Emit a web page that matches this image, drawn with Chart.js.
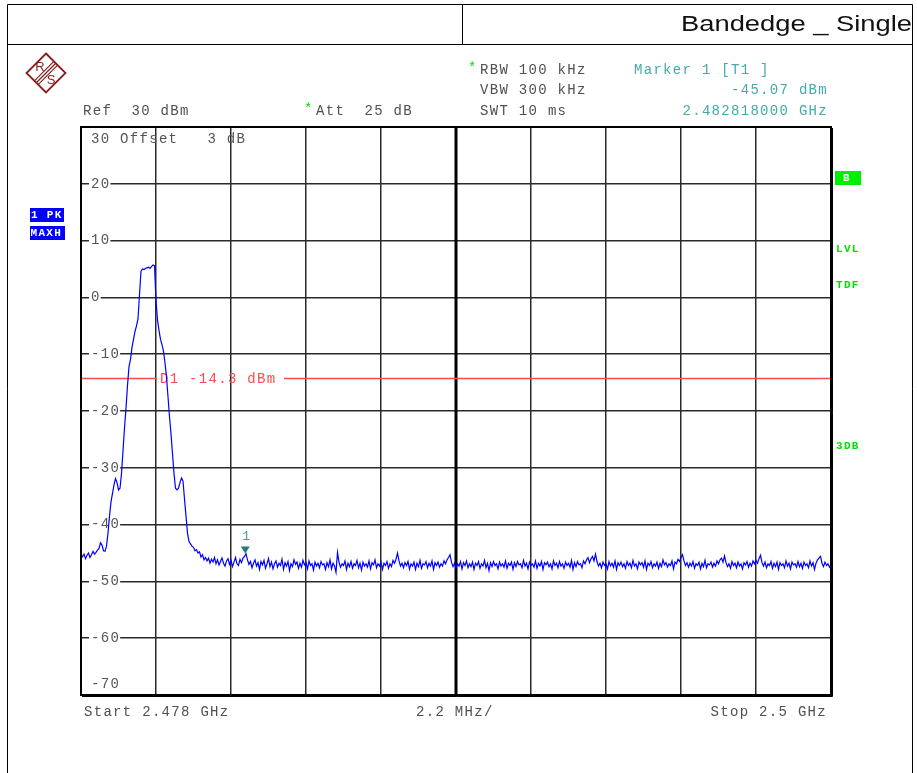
<!DOCTYPE html>
<html>
<head>
<meta charset="utf-8">
<script src="https://cdn.jsdelivr.net/npm/chart.js@4.4.1/dist/chart.umd.min.js"></script>
<style>
  html, body { margin: 0; padding: 0; background: #ffffff; }
  #wrap { position: relative; width: 917px; height: 773px; }
</style>
</head>
<body>
<div id="wrap"><canvas id="c" width="917" height="773"></canvas></div>
<script>
// ---------------- data ----------------
const START_GHZ = 2.478;
const STOP_GHZ = 2.5;
const Y_MIN = -70;
const Y_MAX = 30;
const Y_TICK_LABELS = ["20", "10", "0", "-10", "-20", "-30", "-40", "-50", "-60"];
const Y_TICK_VALUES = [20, 10, 0, -10, -20, -30, -40, -50, -60];
const DISPLAY_LINE_DBM = -14.3;
const MARKER_FREQ_GHZ = 2.482818;
const MARKER_LEVEL_DBM = -45.07;

// trace levels (dBm), 501 evenly spaced sweep points from START to STOP
const LEVEL_DBM = [
  -46.0, -45.6, -45.2, -46.0, -45.4, -45.0, -45.8, -45.3, -44.7, -45.2,
  -44.9, -44.5, -44.2, -43.2, -43.6, -44.6, -44.7, -43.8, -41.5, -38.5,
  -36.0, -34.5, -33.0, -31.9, -32.6, -33.9, -33.6, -31.0, -27.0, -23.0,
  -19.5, -15.5, -12.2, -10.9, -8.8, -7.4, -6.0, -5.0, -3.8, 0.5,
  4.6, 5.0, 4.9, 5.1, 5.2, 5.3, 5.1, 5.4, 5.7, 5.6,
  -0.5, -4.0, -5.8, -7.4, -8.3, -9.5, -11.5, -14.0, -17.5, -21.0,
  -24.0, -27.5, -31.0, -33.6, -33.9, -33.6, -32.6, -31.8, -32.3, -35.5,
  -38.5, -41.5, -43.0, -43.4, -43.8, -44.0, -44.6, -44.4, -45.0, -44.8,
  -45.7, -45.3, -46.2, -45.8,
  -46.4, -45.9, -46.8, -46.1, -46.6, -45.8,
  -46.9, -46.2, -47.1, -46.5, -45.9, -46.8, -47.3, -46.4, -46.0, -47.0,
  -46.3, -47.4, -46.6, -45.8, -46.9, -47.2, -46.1, -46.7, -45.9, -45.6,
  -45.1, -46.2, -47.0, -46.5, -47.6, -46.8, -46.2, -47.3, -46.7, -47.9,
  -46.5, -47.1, -46.3, -47.7, -46.9, -46.0, -47.4, -46.6, -47.8, -46.9,
  -46.4, -47.5, -46.8, -47.2, -46.1, -47.9, -46.7, -47.3, -46.5, -48.1,
  -46.9, -47.4, -46.2, -47.0, -46.6, -47.7, -46.8, -47.5, -46.3, -47.1,
  -46.7, -47.8, -46.4, -47.2, -46.9, -48.0, -46.6, -47.3, -46.8, -47.6,
  -46.5, -47.1, -46.9, -47.9, -46.7, -47.4, -46.2, -47.8, -46.8, -47.3,
  -48.4, -44.9, -46.6, -47.5, -46.9, -47.2, -46.4, -47.9, -46.8, -47.4,
  -46.5, -47.7, -46.9, -47.2, -46.3, -47.6, -46.8, -48.0, -46.6, -47.3,
  -46.9, -47.5, -46.4, -47.8, -46.7, -47.1, -46.2, -47.6, -46.9, -47.3,
  -46.6, -47.9, -46.8, -47.2, -46.5, -47.7, -46.9, -47.4, -46.3, -46.8,
  -46.1, -45.0, -46.4, -47.3, -46.8, -47.6, -46.7, -47.2, -46.5, -47.8,
  -46.9, -47.3, -46.6, -47.9, -46.8, -47.4, -46.3, -47.7, -46.9, -47.1,
  -46.5, -47.6, -46.8, -47.3, -46.4, -47.9, -46.7, -47.2, -46.6, -47.5,
  -46.9, -47.3, -46.4, -46.9, -46.2, -45.8, -45.3, -46.6, -47.4, -46.8,
  -47.7, -46.9, -47.3, -46.5, -47.8, -46.7, -47.2, -46.4, -47.6, -46.9,
  -47.4, -46.6, -47.9, -46.8, -47.2, -46.5, -47.7, -46.9, -47.3, -46.3,
  -47.6, -46.8, -48.1, -46.7, -47.4, -46.5, -47.2, -46.9, -47.8, -46.6,
  -47.3, -46.9, -47.5, -46.4, -47.7, -46.8, -47.2, -46.6, -47.9, -46.7,
  -47.4, -46.5, -47.1, -46.9, -47.6, -46.3, -47.3, -46.8, -47.8, -46.6,
  -47.2, -46.9, -47.5, -46.4, -47.7, -46.8, -47.3, -46.5, -47.9, -46.7,
  -47.1, -46.6, -47.4, -46.9, -47.8, -46.4, -47.2, -46.8, -47.6, -46.5,
  -47.3, -46.9, -47.7, -46.6, -47.2, -46.8, -47.5, -46.3, -47.9, -46.7,
  -47.4, -46.5, -47.1, -46.9, -47.6, -46.4, -46.9, -46.2, -45.8, -46.7,
  -46.0, -45.6, -46.4, -45.2, -46.5, -47.3, -46.8, -47.6, -46.6, -47.2,
  -46.9, -47.8, -46.5, -47.3, -46.8, -47.5, -46.4, -47.9, -46.7, -47.2,
  -46.6, -47.4, -46.9, -47.7, -46.5, -47.2, -46.8, -47.6, -46.3, -47.3,
  -46.9, -47.8, -46.6, -47.1, -46.7, -47.5, -46.4, -47.9, -46.8, -47.2,
  -46.5, -47.6, -46.9, -47.3, -46.6, -47.7, -46.8, -47.4, -46.2, -47.1,
  -46.7, -47.5, -46.9, -47.2, -46.4, -47.8, -46.6, -46.9, -46.1, -46.5,
  -45.8, -45.3, -46.4, -47.2, -46.7, -47.5, -46.8, -47.3, -46.5, -47.7,
  -46.9, -47.2, -46.6, -47.8, -46.8, -47.4, -46.3, -47.6, -46.9, -47.1,
  -46.6, -47.5, -46.8, -47.3, -46.4, -46.9, -46.2, -45.9, -46.6, -45.5,
  -46.7, -47.4, -46.9, -47.7, -46.5, -47.2, -46.8, -47.6, -46.6, -47.3,
  -46.9, -47.8, -46.7, -47.1, -46.5, -47.5, -46.8, -47.3, -46.4, -46.9,
  -46.3, -46.8, -46.0, -45.4, -46.7, -47.3, -46.6, -47.6, -46.9, -47.2,
  -46.5, -47.7, -46.8, -47.4, -46.6, -47.9, -46.7, -47.2, -46.9, -47.6,
  -46.4, -47.3, -46.8, -47.8, -46.6, -47.1, -46.9, -47.5, -46.5, -47.4,
  -46.8, -47.7, -46.6, -47.2, -46.9, -47.6, -46.4, -47.3, -46.7, -47.9,
  -46.8, -46.2, -45.9, -45.6, -46.8, -47.4, -46.6, -47.2, -46.9, -47.5,
  -47.0
];

// ---------------- chart ----------------
const N = LEVEL_DBM.length;
const tracePoints = LEVEL_DBM.map((v, i) => ({ x: START_GHZ + (STOP_GHZ - START_GHZ) * i / (N - 1), y: v }));

const MONO = '"Liberation Mono", "DejaVu Sans Mono", monospace';
const GRID_COLOR = '#2a2a2a';

function monoText(ctx, txt, x, y, color, size, align, bold) {
  ctx.save();
  ctx.font = (bold ? 'bold ' : '') + size + 'px ' + MONO;
  ctx.letterSpacing = '1.3px';
  ctx.fillStyle = color;
  ctx.textBaseline = 'middle';
  ctx.textAlign = 'left';
  if (align === 'right') {
    const w = ctx.measureText(txt).width;
    ctx.fillText(txt, x - w, y);
  } else {
    ctx.fillText(txt, x, y);
  }
  ctx.restore();
}

const decor = {
  id: 'decor',
  beforeDatasetsDraw(chart) {
    const { ctx, chartArea: a, scales } = chart;
    const xs = scales.x, ys = scales.y;
    ctx.save();
    // thicker centre line
    const xc = xs.getPixelForValue((START_GHZ + STOP_GHZ) / 2);
    ctx.strokeStyle = '#000';
    ctx.lineWidth = 3;
    ctx.beginPath(); ctx.moveTo(xc, a.top); ctx.lineTo(xc, a.bottom); ctx.stroke();

    // y tick labels with white background
    ctx.font = '14px ' + MONO;
    ctx.letterSpacing = '1.3px';
    ctx.textBaseline = 'middle';
    Y_TICK_VALUES.forEach((v, k) => {
      const y = ys.getPixelForValue(v);
      const t = Y_TICK_LABELS[k];
      const w = ctx.measureText(t).width;
      ctx.fillStyle = '#fff';
      ctx.fillRect(a.left + 8, y - 3, w + 2, 6);
      ctx.fillStyle = '#555';
      ctx.fillText(t, a.left + 10, y);
    });
    ctx.fillStyle = '#555';
    ctx.fillText('-70', a.left + 10, ys.getPixelForValue(Y_MIN) - 11);
    ctx.fillText('30 Offset   3 dB', a.left + 10, ys.getPixelForValue(Y_MAX) + 12);

    // display line D1
    const yd = ys.getPixelForValue(DISPLAY_LINE_DBM);
    ctx.strokeStyle = '#ff4a4a';
    ctx.lineWidth = 1.5;
    ctx.beginPath(); ctx.moveTo(a.left, yd); ctx.lineTo(a.left + 76, yd); ctx.stroke();
    ctx.beginPath(); ctx.moveTo(a.left + 203, yd); ctx.lineTo(a.right, yd); ctx.stroke();
    ctx.fillStyle = '#ff4a4a';
    ctx.fillText('D1 -14.3 dBm', a.left + 79, yd + 1);
    ctx.restore();
  },
  afterDatasetsDraw(chart) {
    const { ctx, chartArea: a, scales } = chart;
    const xs = scales.x, ys = scales.y;
    ctx.save();
    // marker
    const mx = xs.getPixelForValue(MARKER_FREQ_GHZ);
    const my = ys.getPixelForValue(MARKER_LEVEL_DBM);
    ctx.fillStyle = '#1f7f70';
    ctx.beginPath();
    ctx.moveTo(mx - 4.5, my - 7);
    ctx.lineTo(mx + 4.5, my - 7);
    ctx.lineTo(mx, my);
    ctx.closePath(); ctx.fill();
    ctx.font = '13px ' + MONO;
    ctx.fillStyle = '#3aa39a';
    ctx.textAlign = 'center';
    ctx.textBaseline = 'middle';
    ctx.fillText('1', mx + 1, my - 17);

    // plot border
    ctx.strokeStyle = '#000';
    ctx.lineWidth = 2;
    ctx.strokeRect(a.left, a.top, a.right - a.left, a.bottom - a.top);
    ctx.lineWidth = 1;
    ctx.beginPath();
    ctx.moveTo(a.right + 1.5, a.top + 1); ctx.lineTo(a.right + 1.5, a.bottom + 1.5);
    ctx.lineTo(a.left + 1, a.bottom + 1.5);
    ctx.stroke();
    ctx.restore();
  },
  afterDraw(chart) {
    const { ctx } = chart;
    ctx.save();
    // page frame
    ctx.strokeStyle = '#000';
    ctx.lineWidth = 1;
    ctx.beginPath();
    ctx.moveTo(7.5, 4.5); ctx.lineTo(912.5, 4.5);
    ctx.moveTo(7.5, 44.5); ctx.lineTo(912.5, 44.5);
    ctx.moveTo(7.5, 4.5); ctx.lineTo(7.5, 773);
    ctx.moveTo(912.5, 4.5); ctx.lineTo(912.5, 773);
    ctx.moveTo(462.5, 4.5); ctx.lineTo(462.5, 44.5);
    ctx.stroke();

    // title
    ctx.font = '22px "Liberation Sans", Arial, sans-serif';
    ctx.fillStyle = '#111';
    ctx.textBaseline = 'alphabetic';
    const title = 'Bandedge _ Single';
    const tw = ctx.measureText(title).width;
    const targetW = 231;
    ctx.save();
    ctx.translate(681, 31);
    ctx.scale(targetW / tw, 1);
    ctx.fillText(title, 0, 0);
    ctx.restore();

    // R&S logo
    const cx = 46, cy = 73, r = 19.5;
    ctx.strokeStyle = '#8c1c1c';
    ctx.fillStyle = '#8c1c1c';
    ctx.lineWidth = 1.8;
    ctx.beginPath();
    ctx.moveTo(cx, cy - r); ctx.lineTo(cx + r, cy); ctx.lineTo(cx, cy + r); ctx.lineTo(cx - r, cy); ctx.closePath();
    ctx.stroke();
    ctx.lineWidth = 1.2;
    for (let k = -1; k <= 1; k++) {
      const o = k * 1.9;
      ctx.beginPath();
      ctx.moveTo(cx + r / 2 + o, cy - r / 2 + o);
      ctx.lineTo(cx - r / 2 + o, cy + r / 2 + o);
      ctx.stroke();
    }
    ctx.font = '13px "Liberation Sans", Arial, sans-serif';
    ctx.textAlign = 'center';
    ctx.textBaseline = 'middle';
    ctx.fillText('R', cx - 6, cy - 6);
    ctx.fillText('S', cx + 5, cy + 7.5);
    ctx.restore();

    // header texts
    const G = '#505050', TEAL = '#45a9a9', GREEN = '#00dd00';
    monoText(ctx, 'Ref  30 dBm', 83, 111, G, 14);
    monoText(ctx, '*', 304, 109, GREEN, 14);
    monoText(ctx, 'Att  25 dB', 316, 111, G, 14);
    monoText(ctx, '*', 468, 68, GREEN, 14);
    monoText(ctx, 'RBW 100 kHz', 480, 70, G, 14);
    monoText(ctx, 'VBW 300 kHz', 480, 90, G, 14);
    monoText(ctx, 'SWT 10 ms', 480, 111, G, 14);
    monoText(ctx, 'Marker 1 [T1 ]', 634, 70, TEAL, 14);
    monoText(ctx, '-45.07 dBm', 828, 90, TEAL, 14, 'right');
    monoText(ctx, '2.482818000 GHz', 828, 111, TEAL, 14, 'right');

    // bottom texts
    monoText(ctx, 'Start 2.478 GHz', 84, 712, G, 14);
    monoText(ctx, '2.2 MHz/', 416, 712, G, 14);
    monoText(ctx, 'Stop 2.5 GHz', 827, 712, G, 14, 'right');

    // left trace info boxes
    ctx.save();
    ctx.fillStyle = '#0000ff';
    ctx.fillRect(30, 208, 34, 14);
    ctx.fillRect(30, 226, 35, 14);
    ctx.restore();
    monoText(ctx, '1 PK', 31, 215.5, '#fff', 11, 'left', true);
    monoText(ctx, 'MAXH', 30.5, 233.5, '#fff', 11, 'left', true);

    // right side status
    ctx.save();
    ctx.fillStyle = '#00ee00';
    ctx.fillRect(835, 171, 26, 14);
    ctx.restore();
    monoText(ctx, 'B', 843, 178.5, '#fff', 11, 'left', true);
    monoText(ctx, 'LVL', 836, 249.5, '#00e000', 11, 'left', true);
    monoText(ctx, 'TDF', 836, 285.5, '#00e000', 11, 'left', true);
    monoText(ctx, '3DB', 836, 446.5, '#00e000', 11, 'left', true);
  }
};

new Chart(document.getElementById('c'), {
  type: 'line',
  data: {
    datasets: [{
      data: tracePoints,
      borderColor: '#0000ff',
      borderWidth: 1.2,
      pointRadius: 0,
      tension: 0,
      fill: false
    }]
  },
  options: {
    responsive: false,
    animation: false,
    devicePixelRatio: 1,
    layout: { padding: { left: 81, top: 127, right: 86, bottom: 78 } },
    plugins: { legend: { display: false }, tooltip: { enabled: false } },
    scales: {
      x: {
        type: 'linear',
        min: START_GHZ,
        max: STOP_GHZ,
        afterBuildTicks(scale) {
          const t = [];
          for (let i = 0; i <= 10; i++) t.push({ value: START_GHZ + (STOP_GHZ - START_GHZ) * i / 10 });
          scale.ticks = t;
        },
        ticks: { display: false },
        grid: { color: GRID_COLOR, lineWidth: 1.5, drawTicks: false },
        border: { display: false }
      },
      y: {
        min: Y_MIN,
        max: Y_MAX,
        ticks: { display: false, stepSize: 10 },
        grid: { color: GRID_COLOR, lineWidth: 1.5, drawTicks: false },
        border: { display: false }
      }
    }
  },
  plugins: [decor]
});
</script>
</body>
</html>
